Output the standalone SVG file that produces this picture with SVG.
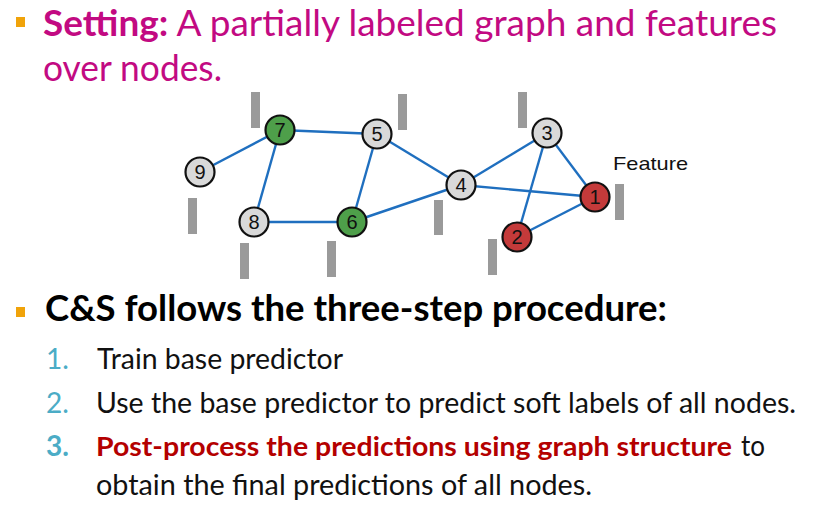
<svg xmlns="http://www.w3.org/2000/svg" width="817" height="506" viewBox="0 0 817 506">
<style>
.t{font-family:Lato,"Open Sans","Liberation Sans",sans-serif}
.h{font-size:36px;fill:#c20a82}
.b{font-weight:bold}
.k{font-size:36px;fill:#000}
.i{font-size:28px;fill:#111}
.n{font-size:28px;fill:#4bacc6}
.r{fill:#b40000;font-size:27px}
.bul{fill:#f0a30a}
.bar{fill:#9a9a9a}
.e{stroke:#1f6fbf;stroke-width:2.4;fill:none}
.nd{stroke:#111;stroke-width:2.2}
.g{fill:#d9d9d9}
.gr{fill:#4e9f4a}
.rd{fill:#c43a3a}
.lb{font-family:"Liberation Sans",Arial,sans-serif;font-size:20px;fill:#111;text-anchor:middle}
</style>
<rect width="817" height="506" fill="#fff"/>
<rect class="bul" x="16" y="17" width="9" height="10"/>
<text class="t h" x="43" y="36" textLength="734" lengthAdjust="spacingAndGlyphs"><tspan class="b">Setting:</tspan> A partially labeled graph and features</text>
<text class="t h" x="43" y="81" textLength="179" lengthAdjust="spacingAndGlyphs">over nodes.</text>
<g id="connectors">
<line class="e" x1="280" y1="130" x2="377" y2="134"/>
<line class="e" x1="280" y1="130" x2="200" y2="172"/>
<line class="e" x1="280" y1="130" x2="254" y2="222"/>
<line class="e" x1="254" y1="222" x2="352" y2="222"/>
<line class="e" x1="352" y1="222" x2="377" y2="134"/>
<line class="e" x1="377" y1="134" x2="461" y2="185"/>
<line class="e" x1="352" y1="222" x2="461" y2="185"/>
<line class="e" x1="461" y1="185" x2="547" y2="133"/>
<line class="e" x1="461" y1="185" x2="595" y2="197"/>
<line class="e" x1="547" y1="133" x2="517" y2="237"/>
<line class="e" x1="547" y1="133" x2="595" y2="197"/>
<line class="e" x1="517" y1="237" x2="595" y2="197"/>
</g>
<g id="features">
<rect class="bar" x="251" y="92" width="9" height="36"/>
<rect class="bar" x="398" y="94" width="9" height="36"/>
<rect class="bar" x="188" y="198" width="9" height="36"/>
<rect class="bar" x="240" y="243" width="9" height="36"/>
<rect class="bar" x="327" y="241" width="9" height="36"/>
<rect class="bar" x="434" y="200" width="9" height="35"/>
<rect class="bar" x="518" y="92" width="9" height="36"/>
<rect class="bar" x="615" y="184" width="9" height="36"/>
<rect class="bar" x="488" y="239" width="9" height="36"/>
</g>
<g id="node7"><circle class="nd gr" cx="280" cy="130" r="14.5"/><text class="lb" x="280" y="137">7</text></g>
<g id="node5"><circle class="nd g" cx="377" cy="134" r="14.5"/><text class="lb" x="377" y="141">5</text></g>
<g id="node9"><circle class="nd g" cx="200" cy="172" r="14.5"/><text class="lb" x="200" y="179">9</text></g>
<g id="node8"><circle class="nd g" cx="254" cy="222" r="14.5"/><text class="lb" x="254" y="229">8</text></g>
<g id="node6"><circle class="nd gr" cx="352" cy="222" r="14.5"/><text class="lb" x="352" y="229">6</text></g>
<g id="node4"><circle class="nd g" cx="461" cy="185" r="14.5"/><text class="lb" x="461" y="192">4</text></g>
<g id="node3"><circle class="nd g" cx="547" cy="133" r="14.5"/><text class="lb" x="547" y="140">3</text></g>
<g id="node1"><circle class="nd rd" cx="595" cy="197" r="14.5"/><text class="lb" x="595" y="204">1</text></g>
<g id="node2"><circle class="nd rd" cx="517" cy="237" r="14.5"/><text class="lb" x="517" y="244">2</text></g>
<text x="613" y="170" font-family="Liberation Sans,Arial,sans-serif" font-size="19" fill="#111" textLength="75" lengthAdjust="spacingAndGlyphs">Feature</text>
<rect class="bul" x="16" y="307" width="9" height="10"/>
<text class="t k b" x="45" y="321" textLength="622" lengthAdjust="spacingAndGlyphs">C&amp;S follows the three-step procedure:</text>
<text class="t n" x="46" y="369">1.</text>
<text class="t i" x="97" y="369" textLength="246" lengthAdjust="spacingAndGlyphs">Train base predictor</text>
<text class="t n" x="46" y="413">2.</text>
<text class="t i" x="96" y="413" textLength="700" lengthAdjust="spacingAndGlyphs">Use the base predictor to predict soft labels of all nodes.</text>
<text class="t n b" x="46" y="456">3.</text>
<text class="t i b r" x="96" y="456" textLength="636" lengthAdjust="spacingAndGlyphs">Post-process the predictions using graph structure</text>
<text class="t i" x="741" y="456" textLength="24" lengthAdjust="spacingAndGlyphs">to</text>
<text class="t i" x="96" y="495" textLength="496" lengthAdjust="spacingAndGlyphs">obtain the final predictions of all nodes.</text>
</svg>
